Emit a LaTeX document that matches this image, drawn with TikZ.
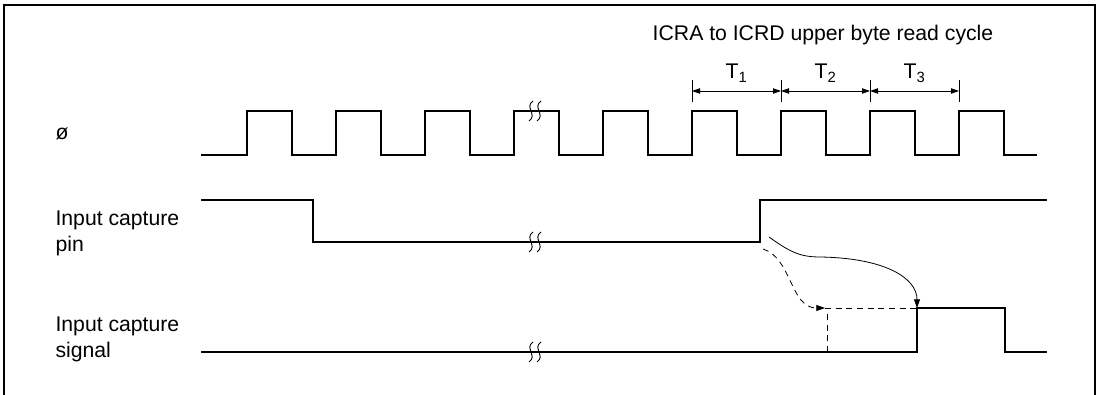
\documentclass[tikz,border=0pt]{standalone}
\usepackage{fontspec}
\setmainfont{Liberation Sans}
\usetikzlibrary{arrows.meta}

\begin{document}
\begin{tikzpicture}[x=0.75pt,y=-0.75pt,line width=.8pt,
  font=\fontsize{15.9}{19.5}\selectfont,
  wave/.style={line join=miter},
  brk/.style={line width=.7pt},
  dim/.style={line width=.6pt,{Triangle[length=6pt,width=4pt]}-{Triangle[length=6pt,width=4pt]}},
  cause/.style={line width=.6pt,-{Triangle[length=6.5pt,width=4.5pt]}},
  lbl/.style={anchor=north west,align=left,inner sep=0pt}]
\useasboundingbox (0,0) rectangle (1100,395);
\draw (4,397)--(4,5)--(1095,5)--(1095,397);
% signal names
\node[anchor=base west,inner sep=0pt] (phi) at (55,140) {ø};
\node[lbl] (pinlbl) at (55,210) {Input capture\\pin};
\node[lbl] (siglbl) at (55,316) {Input capture\\signal};
% clock
\draw[wave] (201,155) foreach \x in {247,336,...,959} {--(\x,155)--(\x,111)--(\x+45,111)--(\x+45,155)} --(1037,155);
% input capture pin
\draw[wave] (201,200)--(313,200)--(313,242)--(760,242)--(760,200)--(1047,200);
% input capture signal
\draw[wave] (201,352)--(917,352)--(917,308)--(1005,308)--(1005,352)--(1047,352);
% breaks
\foreach \y in {111,242,352}
  \foreach \x in {531,539}
    \draw[brk] (\x+2,\y-10)..controls (\x-7,\y-4) and (\x+7,\y+4)..(\x-2,\y+10);
% read cycle states
\node[anchor=base] (cyc) at (823,41) {ICRA to ICRD upper byte read cycle};
\foreach \x [count=\i from 0] in {692,781,870,959} {
  \draw[line width=.6pt] (\x,80)--(\x,102);
  \coordinate (m\i) at (\x,91);
}
\draw[dim] (m0)--(m1);
\draw[dim] (m1)--(m2);
\draw[dim] (m2)--(m3);
\node[anchor=base] (t1) at (736.5,79) {T\textsubscript{1}};
\node[anchor=base] (t2) at (825.5,79) {T\textsubscript{2}};
\node[anchor=base] (t3) at (914.5,79) {T\textsubscript{3}};
% capture timing
\coordinate (edge) at (769,237);
\coordinate (edgeb) at (763,249);
\coordinate (late) at (917,308);
\coordinate (early) at (825,308);
\coordinate (earlyb) at (827,352);
\draw[cause] (edge)..controls (790,252) and (800,257)..(820,257)..controls (885,258) and (917,278)..(late);
\draw[cause,dash pattern=on 4.5pt off 3.5pt] (edgeb)..controls (792,258) and (790,308)..(early);
\draw[line width=.6pt,dash pattern=on 4.5pt off 3.5pt] (early)--(late) (earlyb)--(827,308);
\end{tikzpicture}
\end{document}
